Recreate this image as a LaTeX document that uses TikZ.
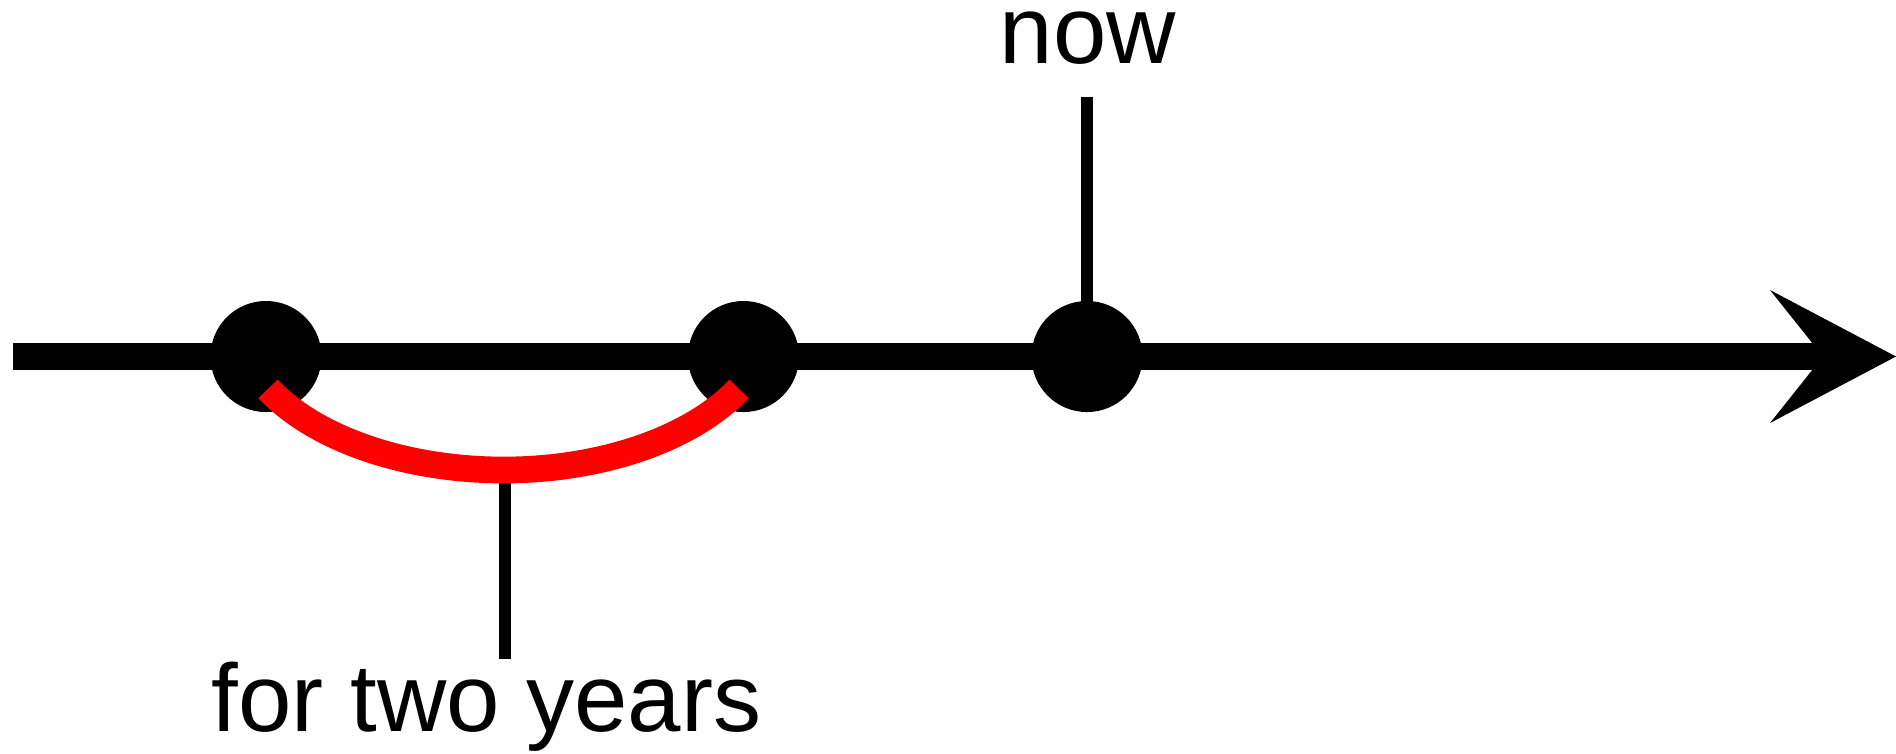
\documentclass[tikz,border=0pt]{standalone}
\usepackage{fontspec}
\setmainfont{Liberation Sans}
\begin{document}
\begin{tikzpicture}[x=0.01cm,y=-0.01cm,
  axis/.style={line width=0.267cm},
  tick/.style={line width=0.12cm},
  dot/.style={circle,fill=black,draw=none,inner sep=0pt,minimum size=1.11cm},
  span/.style={red,line width=0.267cm},
  lbl/.style={font=\fontsize{27.3}{32}\selectfont,inner sep=0pt}]
\useasboundingbox (0,0) rectangle (1896,753);
% axis
\coordinate (start) at (13,356.5);
\coordinate (lineend) at (1830,356.5);
\coordinate (tip) at (1896,356.5);
\coordinate (barbU) at (1770,290);
\coordinate (barbD) at (1770,423);
\coordinate (notchpt) at (1823,356.5);
\draw[axis] (start) -- (lineend);
\fill (tip) -- (barbU) -- (notchpt) -- (barbD) -- cycle;
% points
\node[dot] (c1) at (266,356.5) {};
\node[dot] (c2) at (743.5,356.5) {};
\node[dot] (c3) at (1087,356.5) {};
% now marker
\node[lbl,anchor=base] (now) at (1088,63.3) {now};
\coordinate (nowtop) at (1087,96.7);
\draw[tick] (nowtop) -- (c3.center);
% span marker
\coordinate (arcB) at (505,470);
\coordinate (lowend) at (505,658.7);
\draw[tick] (arcB) -- (lowend);
\coordinate (arcL) at (268,388.9);
\draw[span] (arcL) arc[start angle=151.3,end angle=28.7,x radius=268.5,y radius=156];
\node[lbl,anchor=base west] (years) at (211,731) {for two years};
\end{tikzpicture}
\end{document}
